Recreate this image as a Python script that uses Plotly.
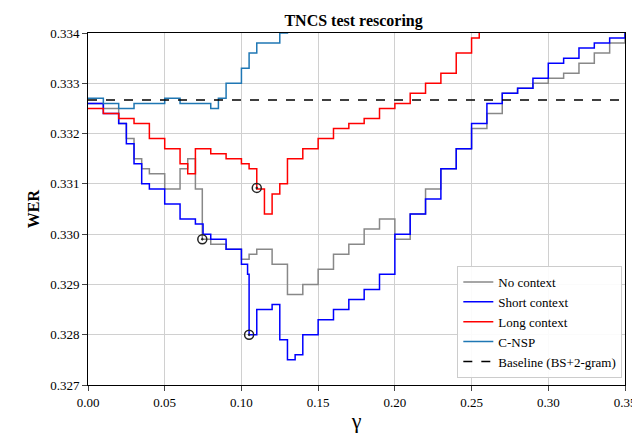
import plotly.graph_objects as go

g_short = [0,0.01,0.02,0.025,0.03,0.035,0.04,0.05,0.06,0.07,0.075,0.08,0.09,0.1,0.104,0.105,0.11,0.12,0.125,0.13,0.135,0.14,0.15,0.16,0.17,0.18,0.19,0.2,0.21,0.22,0.23,0.24,0.25,0.26,0.27,0.28,0.29,0.3,0.31,0.32,0.33,0.34,0.35]
v_short = [0.3326,0.3324,0.3322,0.3318,0.3314,0.3310,0.3309,0.3306,0.3303,0.3302,0.3300,0.3299,0.3297,0.3294,0.3292,0.3280,0.3285,0.3286,0.3279,0.3275,0.3276,0.3280,0.3283,0.3285,0.3287,0.3289,0.3292,0.3300,0.3304,0.3307,0.3313,0.3317,0.3322,0.3326,0.3328,0.3329,0.3331,0.3334,0.3335,0.3337,0.3338,0.3339,0.3340]
g_none = [0,0.01,0.02,0.025,0.03,0.035,0.04,0.05,0.06,0.065,0.07,0.0745,0.08,0.09,0.1,0.105,0.11,0.12,0.13,0.14,0.15,0.16,0.17,0.18,0.19,0.2,0.21,0.22,0.23,0.24,0.25,0.26,0.27,0.28,0.29,0.3,0.31,0.32,0.33,0.34,0.35]
v_none = [0.3326,0.3325,0.3322,0.3319,0.3315,0.3313,0.3312,0.3309,0.3313,0.3315,0.3309,0.3299,0.3298,0.3297,0.3295,0.3296,0.3297,0.3294,0.3288,0.3290,0.3293,0.3296,0.3298,0.3301,0.3303,0.3299,0.3304,0.3309,0.3313,0.3317,0.3321,0.3324,0.3328,0.3329,0.3330,0.3331,0.3332,0.3334,0.3336,0.3338,0.3340]
g_long = [0,0.01,0.02,0.03,0.04,0.05,0.06,0.065,0.07,0.08,0.09,0.1,0.105,0.11,0.115,0.12,0.125,0.13,0.14,0.15,0.16,0.17,0.18,0.19,0.2,0.21,0.22,0.23,0.24,0.25,0.255]
v_long = [0.3325,0.3324,0.3323,0.3322,0.3319,0.3317,0.3314,0.3312,0.3317,0.3316,0.3315,0.3314,0.3313,0.3309,0.3304,0.3308,0.3310,0.3315,0.3317,0.3319,0.3321,0.3322,0.3323,0.3325,0.3326,0.3328,0.3330,0.3332,0.3336,0.3339,0.3341]
g_nsp = [0,0.01,0.02,0.03,0.04,0.05,0.06,0.07,0.08,0.085,0.09,0.1,0.105,0.11,0.125,0.13]
v_nsp = [0.3327,0.3326,0.3325,0.3326,0.3326,0.3327,0.3326,0.3326,0.3325,0.3327,0.3330,0.3333,0.3336,0.3338,0.3340,0.3341]
baseline = 0.33267
mark_g = [0.105,0.0745,0.11]
mark_v = [0.3280,0.3299,0.33092]

fig = go.Figure()
fig.add_trace(go.Scatter(x=g_none,y=v_none,mode="lines",line=dict(color="#888888",width=1.5,shape="hv"),name="No context"))
fig.add_trace(go.Scatter(x=g_short,y=v_short,mode="lines",line=dict(color="#0000ff",width=1.5,shape="hv"),name="Short context"))
fig.add_trace(go.Scatter(x=g_long,y=v_long,mode="lines",line=dict(color="#ff0000",width=1.5,shape="hv"),name="Long context"))
fig.add_trace(go.Scatter(x=g_nsp,y=v_nsp,mode="lines",line=dict(color="#1f77b4",width=1.5,shape="hv"),name="C-NSP"))
fig.add_trace(go.Scatter(x=[0,0.35],y=[baseline,baseline],mode="lines",line=dict(color="black",width=1.5,dash="dash"),name="Baseline (BS+2-gram)"))
fig.add_trace(go.Scatter(x=mark_g,y=mark_v,mode="markers",showlegend=False,
    marker=dict(symbol="circle-open-dot",size=9,color="#222",line=dict(width=1.5,color="#222"))))
font = "Liberation Serif"
fig.update_layout(width=640,height=434,plot_bgcolor="white",paper_bgcolor="white",
    margin=dict(l=80,r=18,t=25,b=57),font=dict(family=font,size=14,color="black"),
    title=dict(text="<b>TNCS test rescoring</b>",x=0.54,y=0.985,font=dict(size=16)),
    legend=dict(x=0.995,y=0.02,xanchor="right",yanchor="bottom",bordercolor="#ccc",borderwidth=1,bgcolor="rgba(255,255,255,0.9)",font=dict(size=13)),
    xaxis=dict(range=[0,0.35],tickvals=[0,0.05,0.1,0.15,0.2,0.25,0.3,0.35],tickformat=".2f",showgrid=True,gridcolor="#d0d0d0",
        tickfont=dict(size=13),
        showline=True,linecolor="black",mirror=True,ticks="outside",title=dict(text="γ",font=dict(size=22),standoff=4)),
    yaxis=dict(range=[0.327,0.334],dtick=0.001,tickformat=".3f",showgrid=True,gridcolor="#d0d0d0",
        tickfont=dict(size=13),
        showline=True,linecolor="black",mirror=True,ticks="outside",title=dict(text="<b>WER</b>",font=dict(size=16),standoff=6)))
fig.write_html("out.html")
